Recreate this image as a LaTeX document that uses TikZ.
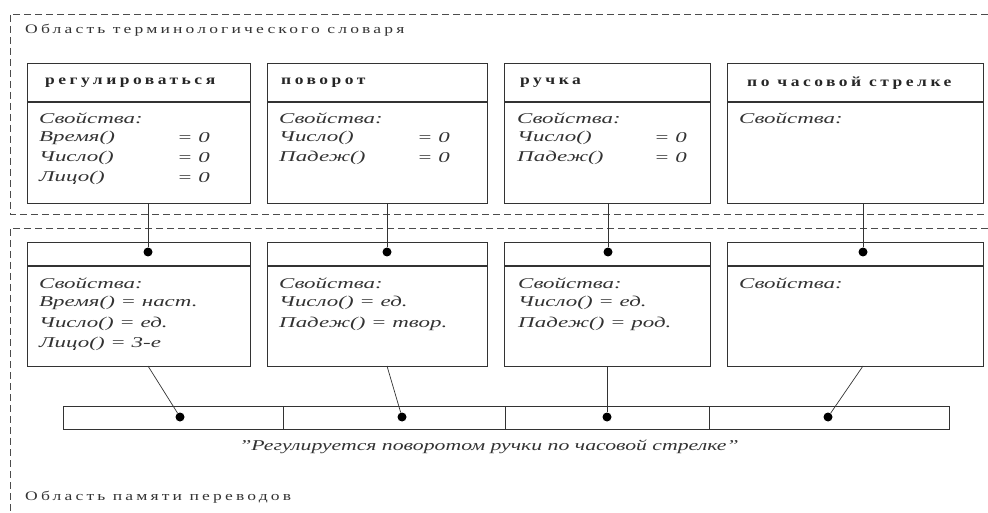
\documentclass[tikz,border=0pt]{standalone}
\usepackage{graphicx}
\usepackage{fontspec}
\setmainfont{Liberation Serif}
\newfontfamily\headf{Liberation Serif}[LetterSpace=20]
\newfontfamily\areaf{Liberation Serif}[LetterSpace=18]
\newcommand{\propsx}[1]{\scalebox{1.53}[1]{#1}}
\newcommand{\capsx}[1]{\scalebox{1.45}[1]{#1}}
\newcommand{\hdrsx}[1]{\scalebox{1.25}[1]{#1}}
\newcommand{\areasx}[1]{\scalebox{1.35}[1]{#1}}
\begin{document}
\begin{tikzpicture}[x=1pt,y=-1pt,
  ln/.style={draw=black!80,line width=1pt},
  boxpart/.style={ln,rectangle,inner sep=0pt,anchor=north west},
  dashline/.style={draw=black!70,line width=0.8pt,dash pattern=on 7pt off 4pt},
  prop/.style={anchor=west,inner sep=0pt,font=\itshape\fontsize{15}{16}\selectfont,text=black!80},
  hdr/.style={anchor=west,inner sep=0pt,font=\headf\bfseries\fontsize{14}{15}\selectfont,text=black!85},
  area/.style={anchor=west,inner sep=0pt,font=\areaf\fontsize{13}{14}\selectfont,text=black!80},
  dot/.style={circle,fill=black,inner sep=0pt,minimum size=9pt},
  conn/.style={draw=black!80,line width=0.7pt}]
\useasboundingbox (0,0) rectangle (988,513);
% areas
\draw[dashline] (988,14) -- (10,14) -- (10,214) -- (988,214);
\draw[dashline] (988,228) -- (10,228) -- (10,513);
\node[area] (area1) at (25,30) {\areasx{Область терминологического словаря}};
\node[area] (area2) at (25,497) {\areasx{Область памяти переводов}};
% boxes
\foreach \n/\l/\r in {1/27/250,2/267/487,3/504/710,4/727/983}{
  \node[boxpart,minimum width=\r-\l,minimum height=39] (th\n) at (\l,63) {};
  \node[boxpart,minimum width=\r-\l,minimum height=101] (tb\n) at (\l,102) {};
  \draw[line width=1.6pt,black!80] (tb\n.north west) -- (tb\n.north east);
  \node[boxpart,minimum width=\r-\l,minimum height=24] (bh\n) at (\l,242) {};
  \node[boxpart,minimum width=\r-\l,minimum height=100] (bb\n) at (\l,266) {};
  \draw[line width=2pt,black!80] (bb\n.north west) -- (bb\n.north east);
}
\node[hdr] (t1) at (45,83) {\hdrsx{регулироваться}};
\node[hdr] (t2) at (281,83) {\hdrsx{поворот}};
\node[hdr] (t3) at (520,83) {\hdrsx{ручка}};
\node[hdr] (t4) at (747,83) {\hdrsx{по часовой стрелке}};
% top properties
\node[prop] (p11) at (39,118) {\propsx{Свойства:}};
\node[prop] (p12) at (39,138) {\propsx{Время()}};
\node[prop] (p13) at (39,158) {\propsx{Число()}};
\node[prop] (p14) at (39,178) {\propsx{Лицо()}};
\node[prop] (e12) at (177,138) {\propsx{= 0}};
\node[prop] (e13) at (177,158) {\propsx{= 0}};
\node[prop] (e14) at (177,178) {\propsx{= 0}};
\node[prop] (p21) at (279,118) {\propsx{Свойства:}};
\node[prop] (p22) at (279,138) {\propsx{Число()}};
\node[prop] (p23) at (279,158) {\propsx{Падеж()}};
\node[prop] (e22) at (417,138) {\propsx{= 0}};
\node[prop] (e23) at (417,158) {\propsx{= 0}};
\node[prop] (p31) at (517,118) {\propsx{Свойства:}};
\node[prop] (p32) at (517,138) {\propsx{Число()}};
\node[prop] (p33) at (517,158) {\propsx{Падеж()}};
\node[prop] (e32) at (654,138) {\propsx{= 0}};
\node[prop] (e33) at (654,158) {\propsx{= 0}};
\node[prop] (p41) at (739,118) {\propsx{Свойства:}};
% bottom properties
\node[prop] (q11) at (39,283) {\propsx{Свойства:}};
\node[prop] (q12) at (39,303) {\propsx{Время() = наст.}};
\node[prop] (q13) at (39,324) {\propsx{Число() = ед.}};
\node[prop] (q14) at (39,344) {\propsx{Лицо() = 3-е}};
\node[prop] (q21) at (279,283) {\propsx{Свойства:}};
\node[prop] (q22) at (279,303) {\propsx{Число() = ед.}};
\node[prop] (q23) at (279,324) {\propsx{Падеж() = твор.}};
\node[prop] (q31) at (518,283) {\propsx{Свойства:}};
\node[prop] (q32) at (518,303) {\propsx{Число() = ед.}};
\node[prop] (q33) at (518,324) {\propsx{Падеж() = род.}};
\node[prop] (q41) at (739,283) {\propsx{Свойства:}};
% sentence bar
\foreach \n/\l/\r in {1/63/283,2/283/505,3/505/709,4/709/949}{
  \node[boxpart,minimum width=\r-\l,minimum height=23] (s\n) at (\l,406) {};
}
\node[prop,anchor=center] (cap) at (489,447) {\capsx{"Регулируется поворотом ручки по часовой стрелке"}};
% dots
\node[dot] (d1) at (148,252) {};
\node[dot] (d2) at (387,252) {};
\node[dot] (d3) at (608,252) {};
\node[dot] (d4) at (863,252) {};
\node[dot] (f1) at (180,417) {};
\node[dot] (f2) at (402,417) {};
\node[dot] (f3) at (607,417) {};
\node[dot] (f4) at (828,417) {};
% connectors
\draw[conn] (tb1.south -| d1) -- (d1);
\draw[conn] (tb2.south -| d2) -- (d2);
\draw[conn] (tb3.south -| d3) -- (d3);
\draw[conn] (tb4.south -| d4) -- (d4);
\coordinate (c1) at (148,366);
\coordinate (c2) at (387,366);
\coordinate (c3) at (607,366);
\coordinate (c4) at (863,366);
\draw[conn] (c1) -- (f1);
\draw[conn] (c2) -- (f2);
\draw[conn] (c3) -- (f3);
\draw[conn] (c4) -- (f4);
\end{tikzpicture}
\end{document}
